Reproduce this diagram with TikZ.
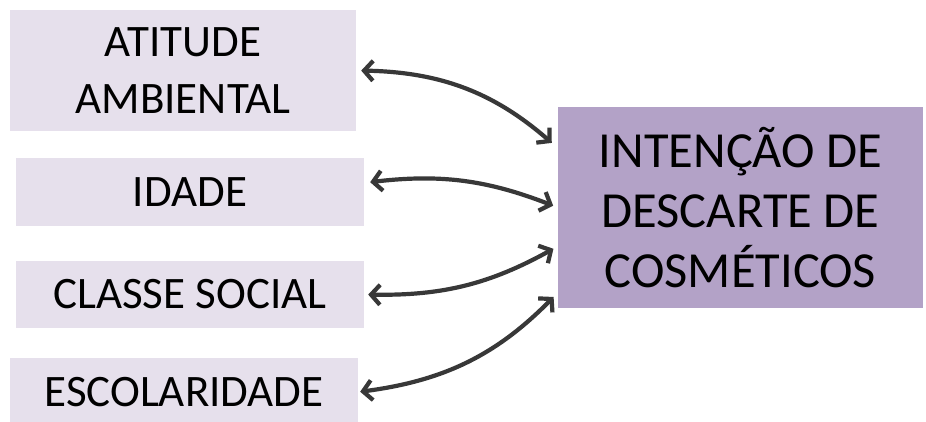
\documentclass[tikz,border=0pt]{standalone}
\usepackage{fontspec}
\setmainfont{Carlito}
\usetikzlibrary{arrows.meta}
\definecolor{factorlilac}{HTML}{E6E0EC}
\definecolor{targetlilac}{HTML}{B3A2C7}
\definecolor{linkgray}{HTML}{383838}

\begin{document}
\begin{tikzpicture}[
    x=1pt, y=1pt,
    factor/.style={fill=factorlilac, minimum width=348pt, minimum height=68pt, inner sep=0pt, align=center, font=\fontsize{45}{57}\selectfont},
    target/.style={fill=targetlilac, minimum width=365pt, minimum height=201pt, inner sep=0pt, align=center, font=\fontsize{50.5}{60}\selectfont},
    link/.style={{Straight Barb[length=9pt, width=20pt]}-{Straight Barb[length=9pt, width=20pt]}, line width=4.2pt, linkgray}
]
\clip (0, 0) rectangle (926, 421);
\fill[white] (0, 0) rectangle (926, 421);

% Factor boxes
\node[factor, minimum width=346pt, minimum height=121pt] (atitude) at (183, 350.5) {ATITUDE\\AMBIENTAL};
\node[factor] (idade) at (190, 229) {IDADE};
\node[factor, minimum height=67pt] (classe) at (190, 126.5) {CLASSE SOCIAL};
\node[factor] (escola) at (184, 29) {ESCOLARIDADE};

% Target box
\node[target] (intencao) at (740.5, 213.5) {INTENÇÃO DE\\DESCARTE DE\\COSMÉTICOS};

% Links
\draw[link, shorten <=5pt, shorten >=8pt] (atitude.east) to[bend left=20] (intencao.162);
\draw[link, shorten <=6pt, shorten >=5pt] (idade.3) to[bend left=14] (intencao.west);
\draw[link, shorten <=4pt, shorten >=5pt] (classe.east) to[bend right=15] (intencao.192);
\draw[link, shorten <=2pt, shorten >=6pt] (escola.east) to[bend right=19] (intencao.205);

\end{tikzpicture}
\end{document}
